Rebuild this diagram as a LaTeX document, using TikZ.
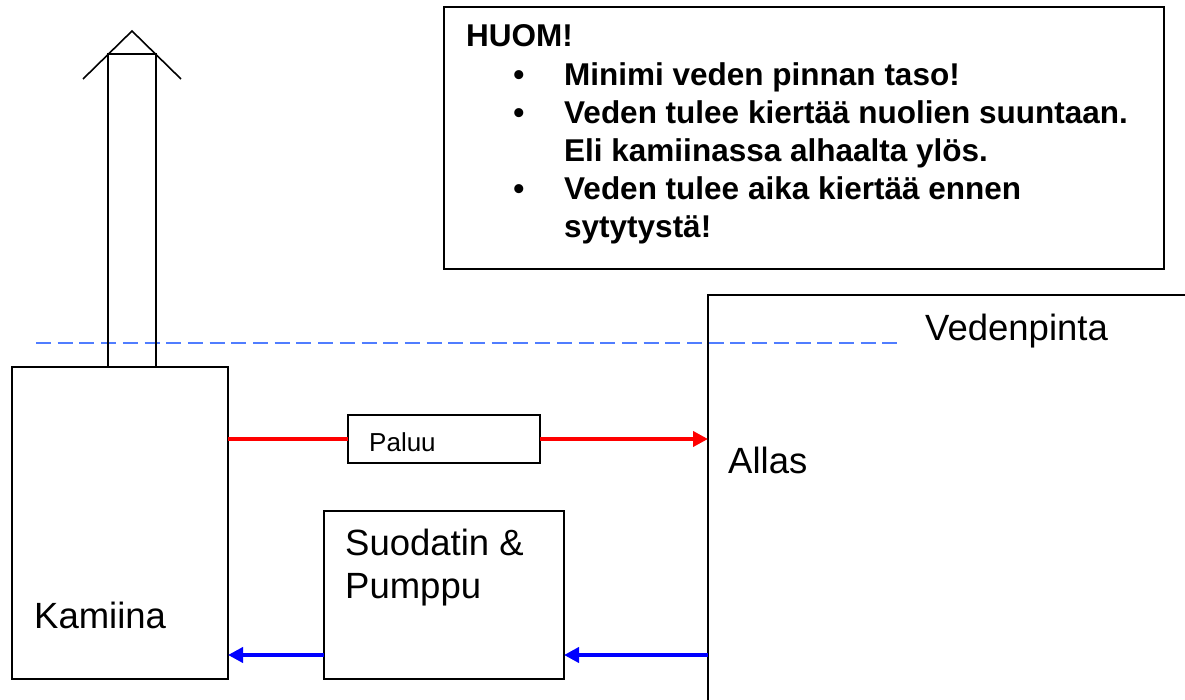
\documentclass[tikz,border=0pt]{standalone}
\usepackage{fontspec}
\setmainfont{Liberation Sans}
\usetikzlibrary{arrows.meta}
\definecolor{waterblue}{RGB}{80,125,255}
\begin{document}
\begin{tikzpicture}[x=1pt,y=-1pt,
  box/.style={draw=black, line width=1.6pt, inner sep=0pt, outer sep=0pt, anchor=north west},
  edge/.style={draw=black, line width=1.6pt},
  big/.style={font=\fontsize{36.5}{43}\selectfont, anchor=base west, inner sep=0pt},
  small/.style={font=\fontsize{26}{30}\selectfont, anchor=base west, inner sep=0pt},
  note/.style={font=\bfseries\fontsize{31.5}{36}\selectfont, anchor=base west, inner sep=0pt},
  bul/.style={font=\bfseries\fontsize{31.5}{36}\selectfont, anchor=base, inner sep=0pt},
  hotline/.style={draw=red, line width=4.5pt},
  hot/.style={hotline, -{Triangle[length=15pt,width=15pt]}},
  cold/.style={draw=blue, line width=4.5pt, -{Triangle[length=15pt,width=15pt]}},
  level/.style={draw=waterblue, line width=2pt, dash pattern=on 15pt off 6.7pt}
]
\useasboundingbox (0,0) rectangle (1185,700);
\fill[white] (0,0) rectangle (1185,700);

% water level
\coordinate (lvlA) at (36,343);
\coordinate (lvlB) at (900,343);
\draw[level] (lvlA) -- (lvlB);

% stove and chimney
\node[box, minimum width=216pt, minimum height=312pt] (kam) at (12,367) {};
\node[box, minimum width=48pt, minimum height=313pt] (chim) at (108,54) {};
\coordinate (roofL) at (83,79);
\coordinate (roofT) at (132,31);
\coordinate (roofR) at (181,79);
\draw[edge] (roofL) -- (roofT) -- (roofR);
\node[big] (kamtxt) at (34,628) {Kamiina};

% pool
\coordinate (poolR) at (1185,295);
\coordinate (poolTL) at (708,295);
\coordinate (poolB) at (708,700);
\draw[edge] (poolR) -- (poolTL) -- (poolB);
\node[big] (vedtxt) at (925,340) {Vedenpinta};
\node[big] (allas) at (728,473) {Allas};

% return pipe
\node[box, minimum width=192pt, minimum height=48pt] (pal) at (348,415) {};
\node[small] (paltxt) at (369,451) {Paluu};
\draw[hotline] (kam.east |- pal.west) -- (pal.west);
\draw[hot] (pal.east) -- (pal.east -| poolTL);

% filter and pump
\node[box, minimum width=240pt, minimum height=168pt] (suo) at (324,511) {};
\node[big] (suotxt1) at (345,555) {Suodatin \&};
\node[big] (suotxt2) at (345,598) {Pumppu};
\coordinate (cy) at (708,655);
\draw[cold] (cy) -- (cy -| suo.east);
\draw[cold] (cy -| suo.west) -- (cy -| kam.east);

% note box
\node[box, minimum width=720pt, minimum height=262pt] (huom) at (444,7) {};
\node[note] (n0) at (466,47) {HUOM!};
\node[bul] (b1) at (519,86) {•};
\node[note] (n1) at (564,86) {Minimi veden pinnan taso!};
\node[bul] (b2) at (519,124) {•};
\node[note] (n2) at (564,124) {Veden tulee kiertää nuolien suuntaan.};
\node[note] (n3) at (564,162) {Eli kamiinassa alhaalta ylös.};
\node[bul] (b3) at (519,200) {•};
\node[note] (n4) at (564,200) {Veden tulee aika kiertää ennen};
\node[note] (n5) at (564,238) {sytytystä!};
\end{tikzpicture}
\end{document}
